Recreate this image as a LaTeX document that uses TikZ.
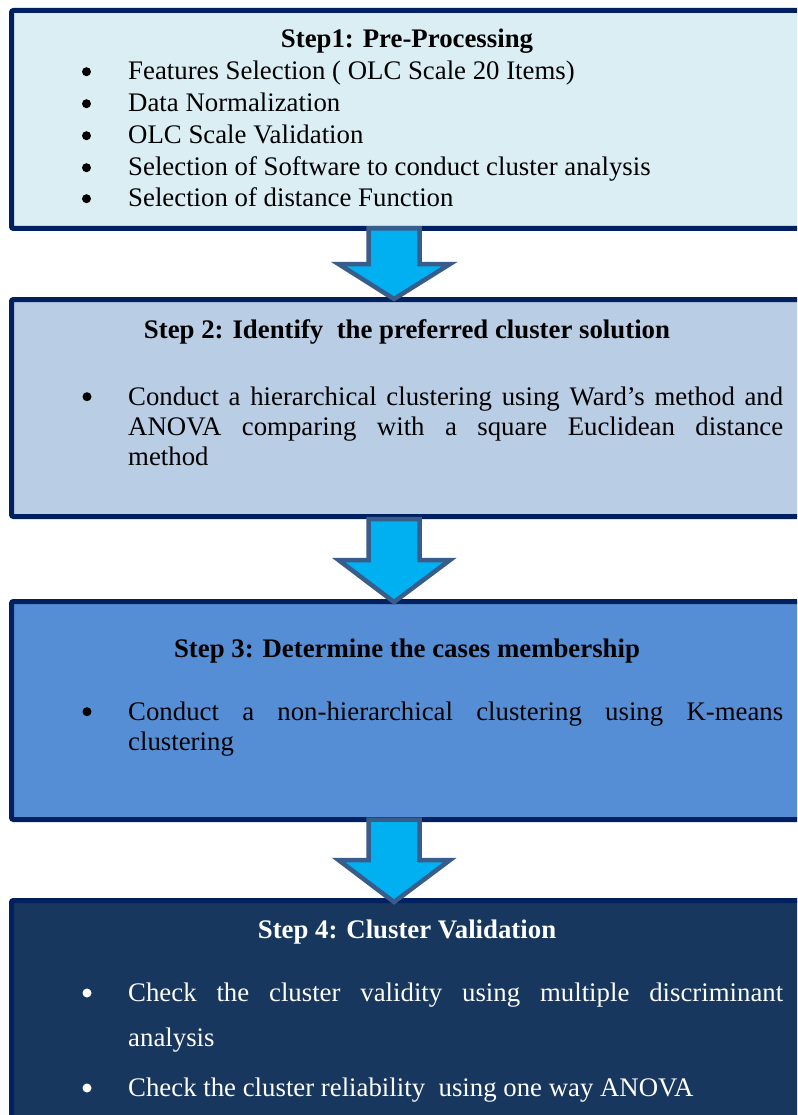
\documentclass[tikz,border=0pt]{standalone}
\usepackage{fontspec}
\setmainfont{Liberation Serif}
\usetikzlibrary{calc}

\definecolor{frameblue}{HTML}{002060}
\definecolor{fillone}{HTML}{DAEEF3}
\definecolor{filltwo}{HTML}{B9CDE5}
\definecolor{fillthree}{HTML}{558ED5}
\definecolor{fillfour}{HTML}{17375E}
\definecolor{arrowfill}{HTML}{00B0F0}
\definecolor{arrowedge}{HTML}{385D8A}

% block arrow: #1 = top point, #2 = tip point, #3 = head height
\newcommand{\downblock}[3]{%
  \draw[arrowbody]
    ($(#1)+(-25.5,0)$) -- ($(#1)+(25.5,0)$) --
    ($(#2)+(25.5,-#3)$) -- ($(#2)+(56,-#3)$) --
    (#2) --
    ($(#2)+(-55.5,-#3)$) -- ($(#2)+(-25.5,-#3)$) -- cycle;}

\begin{document}
\begin{tikzpicture}[x=1pt,y=-1pt,
  stepframe/.style={draw=frameblue, line width=5pt, rounded corners=2pt,
    rectangle, outer sep=0pt, inner sep=0pt, minimum width=818pt},
  arrowbody/.style={fill=arrowfill, draw=arrowedge, line width=4.5pt,
    line join=miter},
  steptitle/.style={anchor=base, inner sep=0pt, font=\fontsize{26.8}{32}\selectfont\bfseries},
  item/.style={anchor=base west, inner sep=0pt, font=\fontsize{26.8}{32}\selectfont},
  dot/.style={circle, fill, inner sep=0pt, minimum size=9pt}]

\clip (0,0) rectangle (797,1115);
\fill[white] (0,0) rectangle (797,1115);

% ---- step boxes
\node[stepframe, fill=fillone,   minimum height=218pt] (s1) at (420.5,119.5) {};
\node[stepframe, fill=filltwo,   minimum height=217pt] (s2) at (420.5,408) {};
\node[stepframe, fill=fillthree, minimum height=218pt] (s3) at (420.5,710.5) {};
\node[stepframe, fill=fillfour,  minimum height=240pt] (s4) at (420.5,1020.5) {};

% ---- connecting block arrows
\coordinate (ax) at (394,0);
\coordinate (a1s) at (s1.south -| ax);
\coordinate (a1e) at ($(s2.north -| ax)+(0,-0.5)$);
\coordinate (a2s) at ($(s2.south -| ax)+(0,2.5)$);
\coordinate (a2e) at ($(s3.north -| ax)+(0,0.5)$);
\coordinate (a3s) at (s3.south -| ax);
\coordinate (a3e) at ($(s4.north -| ax)+(0,1.5)$);
\downblock{a1s}{a1e}{35}
\downblock{a2s}{a2e}{42}
\downblock{a3s}{a3e}{42}

% ---- step 1
\node[steptitle] (t1) at (407,48) {Step1: Pre-Processing};
\node[dot] (d11) at (86.5,71.7) {};
\node[dot] (d12) at (86.5,103.7) {};
\node[dot] (d13) at (86.5,135.7) {};
\node[dot] (d14) at (86.5,167.7) {};
\node[dot] (d15) at (86.5,198.7) {};
\node[item] (i11) at (128,80)  {Features Selection ( OLC Scale 20 Items)};
\node[item] (i12) at (128,112) {Data Normalization};
\node[item] (i13) at (128,144) {OLC Scale Validation};
\node[item] (i14) at (128,176) {Selection of Software to conduct cluster analysis};
\node[item] (i15) at (128,207) {Selection of distance Function};

% ---- step 2
\node[steptitle] (t2) at (407,338) {Step 2: Identify\ \ the preferred cluster solution};
\node[dot] (d21) at (87,396.7) {};
\node[item] (i21) at (128,405) {\makebox[655pt][s]{Conduct a hierarchical clustering using Ward’s method and}};
\node[item] (i22) at (128,435) {\makebox[655pt][s]{ANOVA comparing with a square Euclidean distance}};
\node[item] (i23) at (128,465) {method};

% ---- step 3
\node[steptitle] (t3) at (407,657) {Step 3: Determine the cases membership};
\node[dot] (d31) at (87,711.7) {};
\node[item] (i31) at (128,720) {\makebox[655pt][s]{Conduct a non-hierarchical clustering using K-means}};
\node[item] (i32) at (128,750) {clustering};

% ---- step 4
\begin{scope}[white]
\node[steptitle, text=white] (t4) at (407,938) {Step 4: Cluster Validation};
\node[dot] (d41) at (87,993) {};
\node[dot] (d42) at (87,1088) {};
\node[item, text=white] (i41) at (128,1001.5) {\makebox[655pt][s]{Check the cluster validity using multiple discriminant}};
\node[item, text=white] (i42) at (128,1046.5) {analysis};
\node[item, text=white] (i43) at (128,1096.5) {Check the cluster reliability\ \ using one way ANOVA};
\end{scope}
\end{tikzpicture}
\end{document}
